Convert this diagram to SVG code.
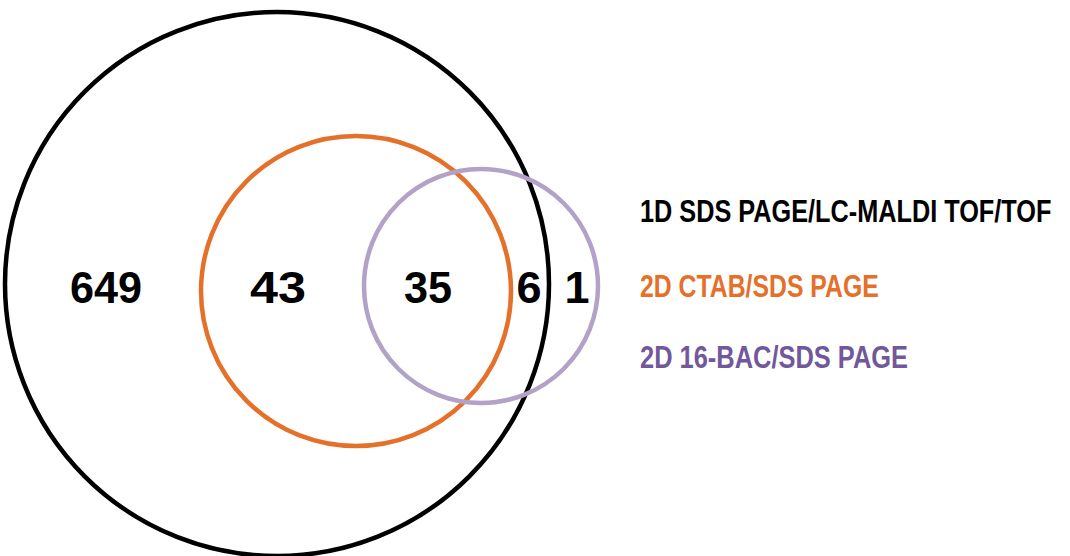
<svg xmlns="http://www.w3.org/2000/svg" width="1070" height="556" viewBox="0 0 1070 556">
<style>
.c{fill:none;stroke-width:4.5}
.n{font-family:"Liberation Sans",Arial,sans-serif;font-weight:bold;font-size:45px;fill:#000;text-anchor:middle}
.l{font-family:"Liberation Sans",Arial,sans-serif;font-weight:bold;font-size:32px}
</style>
<rect width="1070" height="556" fill="#fff"/>
<g id="set-1d">
<circle class="c" cx="277" cy="284" r="272" stroke="#000"/>
</g>
<g id="set-ctab">
<circle class="c" cx="356" cy="291" r="155" stroke="#e5702a"/>
</g>
<g id="set-16bac">
<circle class="c" cx="481" cy="286" r="117" stroke="#b3a2c7"/>
</g>
<g id="counts">
<text class="n" x="106" y="303" textLength="72" lengthAdjust="spacingAndGlyphs">649</text>
<text class="n" x="278" y="303" textLength="56" lengthAdjust="spacingAndGlyphs">43</text>
<text class="n" x="428" y="303" textLength="48" lengthAdjust="spacingAndGlyphs">35</text>
<text class="n" x="529" y="303">6</text>
<text class="n" x="577" y="303">1</text>
</g>
<g id="legend">
<text class="l" transform="translate(640,222) scale(0.79,1)" fill="#000">1D SDS PAGE/LC-MALDI TOF/TOF</text>
<text class="l" transform="translate(640,297) scale(0.775,1)" fill="#e5702a">2D CTAB/SDS PAGE</text>
<text class="l" transform="translate(640,368) scale(0.795,1)" fill="#71589b">2D 16-BAC/SDS PAGE</text>
</g>
</svg>
